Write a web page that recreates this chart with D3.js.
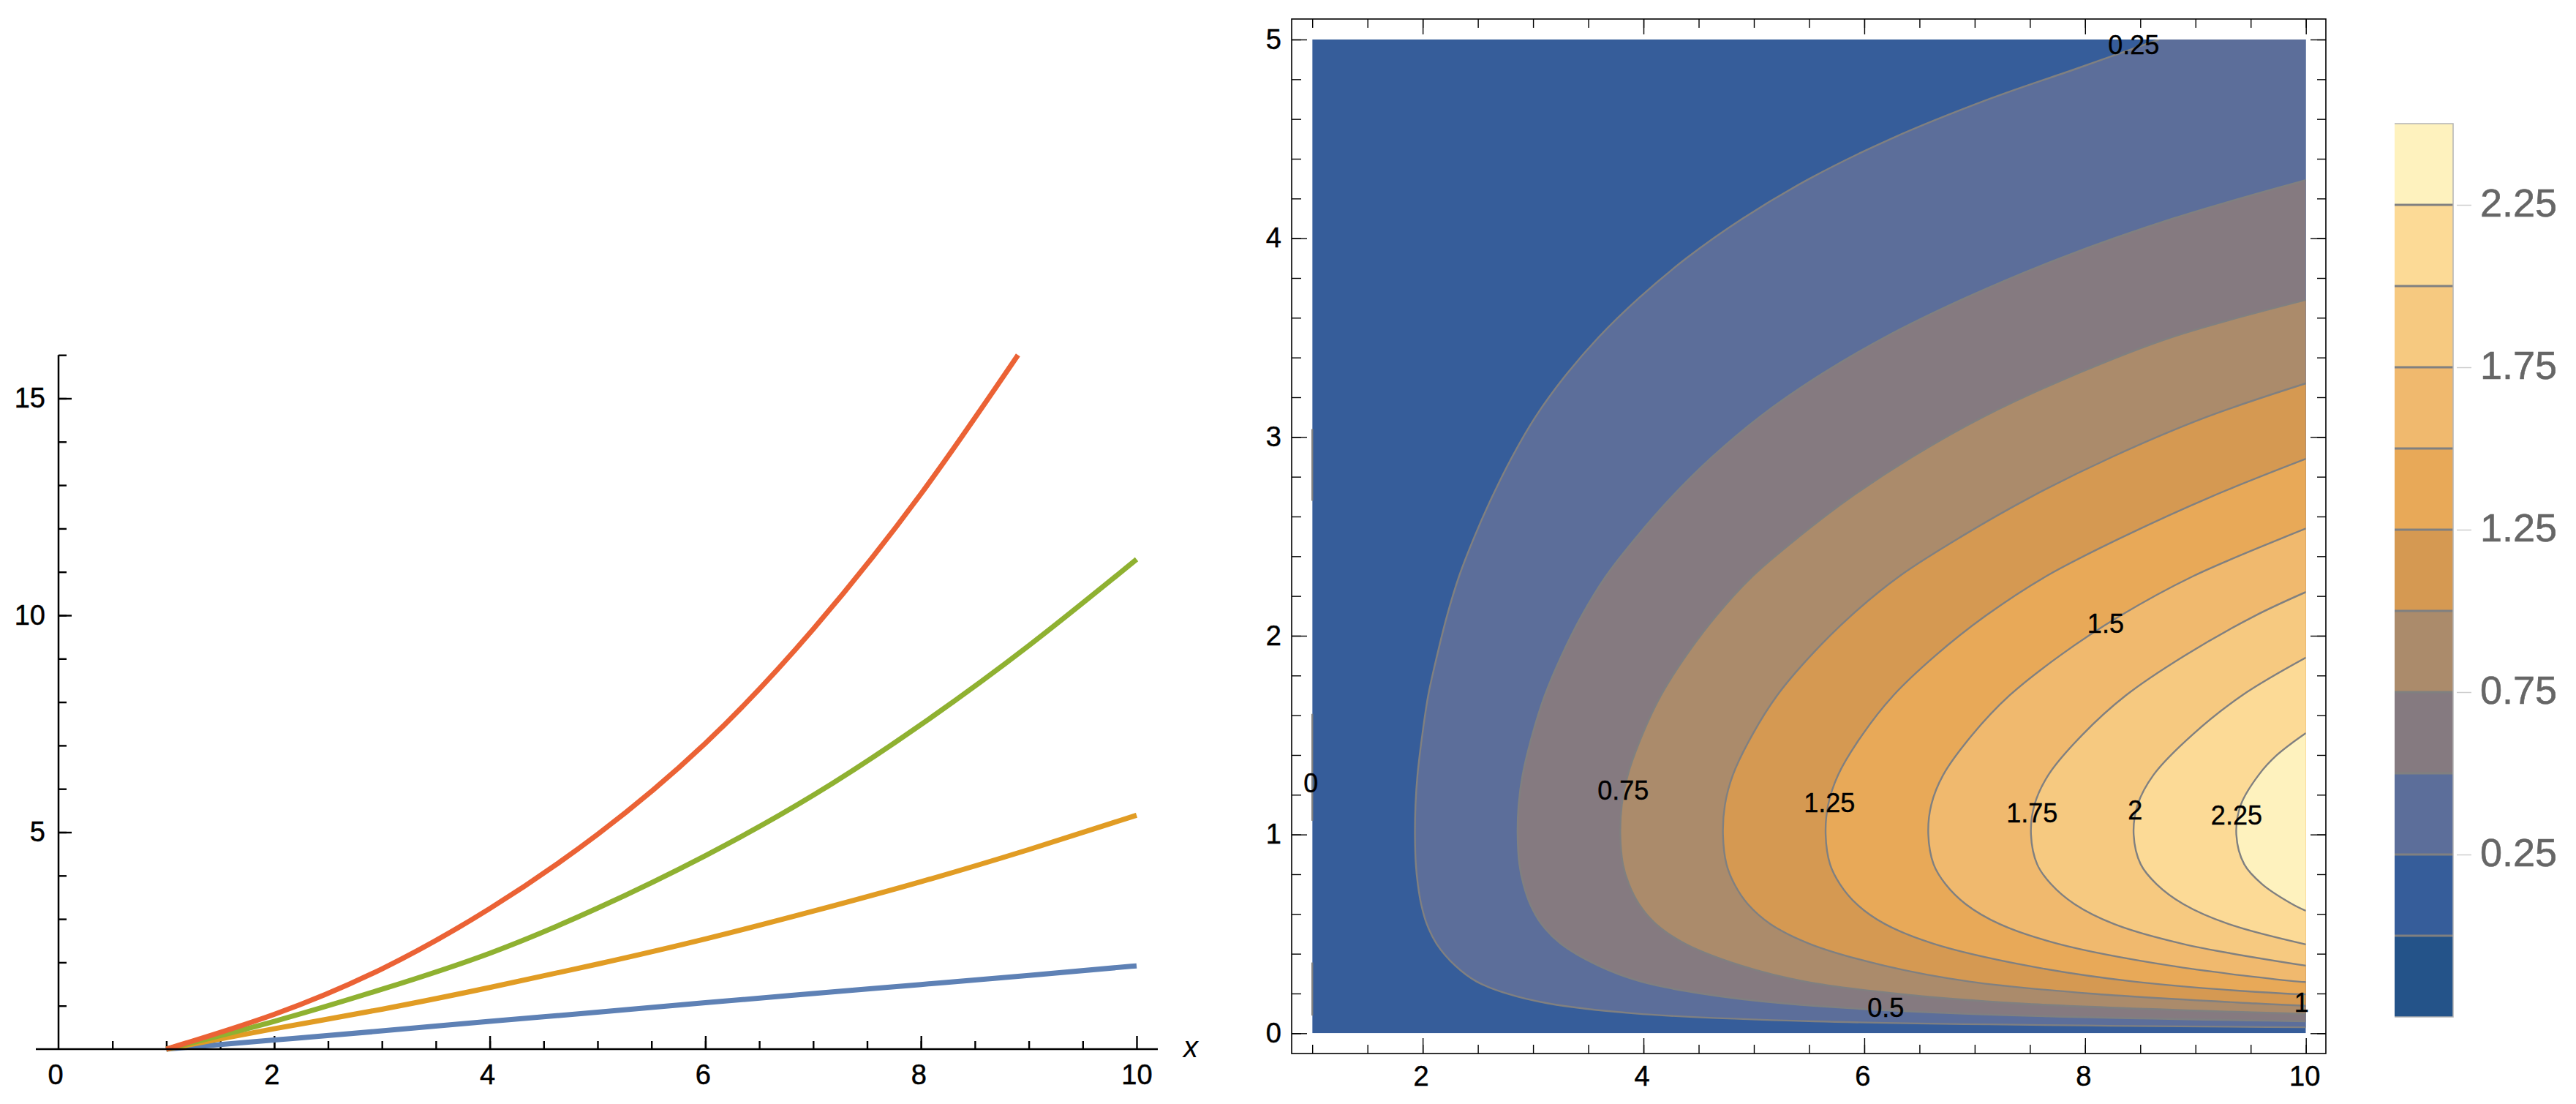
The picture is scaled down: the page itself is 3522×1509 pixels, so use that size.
<!DOCTYPE html>
<html>
<head>
<meta charset="utf-8">
<script src="https://cdn.jsdelivr.net/npm/d3@7"></script>
<style>
  html, body { margin: 0; background: #fff; }
  svg { display: block; }
  text { font-family: "Liberation Sans", Arial, sans-serif; }
</style>
</head>
<body>
<svg id="chart" width="3522" height="1509"></svg>
<script>
// left plot: curves
const curveX = [1, 2, 3, 4, 5, 6, 7, 8, 9, 10];
const blueY = [0, 0.21, 0.42, 0.64, 0.85, 1.07, 1.28, 1.49, 1.7, 1.92];
const orangeY = [0, 0.47, 0.92, 1.42, 1.96, 2.54, 3.18, 3.86, 4.6, 5.39];
const greenY = [0, 0.64, 1.38, 2.21, 3.25, 4.46, 5.85, 7.48, 9.3, 11.29];
const redX = [1, 2, 3, 4, 5, 6, 7, 8, 8.9];
const redY = [0, 0.8, 1.85, 3.24, 4.95, 7.05, 9.68, 12.8, 16];

// right plot: contour lines, top or right edge first
const c025 = [[8.67,5],[7.905,4.85],[7.13,4.7],[6.24,4.5],[5.505,4.3],[4.9,4.1],[4.39,3.9],[3.96,3.7],[3.59,3.5],[3.28,3.3],[3.02,3.1],[2.81,2.9],[2.63,2.7],[2.47,2.5],[2.33,2.3],[2.22,2.1],[2.13,1.9],[2.05,1.7],[1.996,1.5],[1.953,1.3],[1.935,1.15],[1.93,1],[1.938,0.85],[1.956,0.75],[1.986,0.65],[2.037,0.55],[2.126,0.45],[2.295,0.34],[2.488,0.26],[2.76,0.2],[3.137,0.15],[3.908,0.1],[5.545,0.06],[10,0.03]];
const c050 = [[10,4.293],[8.8,4.1],[7.775,3.9],[6.917,3.7],[6.18,3.5],[5.566,3.3],[5.05,3.1],[4.623,2.9],[4.258,2.7],[3.941,2.5],[3.66,2.3],[3.439,2.1],[3.258,1.9],[3.106,1.7],[2.992,1.5],[2.905,1.3],[2.869,1.15],[2.86,1],[2.876,0.85],[2.912,0.75],[2.973,0.65],[3.075,0.55],[3.252,0.45],[3.591,0.34],[3.976,0.26],[4.521,0.2],[5.274,0.15],[6.815,0.1],[10,0.06]];
const c075 = [[10,3.69],[8.772,3.5],[7.849,3.3],[7.073,3.1],[6.435,2.9],[5.886,2.7],[5.412,2.5],[4.989,2.3],[4.659,2.1],[4.386,1.9],[4.158,1.7],[3.988,1.5],[3.858,1.3],[3.804,1.15],[3.79,1],[3.814,0.85],[3.868,0.75],[3.959,0.65],[4.112,0.55],[4.379,0.45],[4.886,0.34],[5.464,0.26],[6.282,0.2],[7.41,0.15],[10,0.097]];
const c100 = [[10,3.27],[9.097,3.1],[8.246,2.9],[7.515,2.7],[6.882,2.5],[6.319,2.3],[5.878,2.1],[5.515,1.9],[5.211,1.7],[4.984,1.5],[4.81,1.3],[4.738,1.15],[4.72,1],[4.752,0.85],[4.824,0.75],[4.945,0.65],[5.149,0.55],[5.505,0.45],[6.181,0.34],[6.952,0.26],[8.042,0.2],[9.547,0.15],[10,0.138]];
const c125 = [[10,2.89],[9.144,2.7],[8.353,2.5],[7.649,2.3],[7.098,2.1],[6.644,1.9],[6.264,1.7],[5.98,1.5],[5.763,1.3],[5.673,1.15],[5.65,1],[5.69,0.85],[5.78,0.75],[5.931,0.65],[6.186,0.55],[6.631,0.45],[7.476,0.34],[8.44,0.26],[9.803,0.2],[10,0.196]];
const c150 = [[10,2.54],[9.823,2.5],[8.979,2.3],[8.317,2.1],[7.772,1.9],[7.316,1.7],[6.976,1.5],[6.715,1.3],[6.607,1.15],[6.58,1],[6.628,0.85],[6.736,0.75],[6.918,0.65],[7.224,0.55],[7.757,0.45],[8.772,0.34],[9.928,0.26],[10,0.258]];
const c175 = [[10,2.22],[9.537,2.1],[8.901,1.9],[8.369,1.7],[7.972,1.5],[7.668,1.3],[7.542,1.15],[7.51,1],[7.566,0.85],[7.692,0.75],[7.904,0.65],[8.261,0.55],[8.884,0.45],[10,0.34]];
const c200 = [[10,1.89],[9.422,1.7],[8.968,1.5],[8.62,1.3],[8.476,1.15],[8.44,1],[8.504,0.85],[8.648,0.75],[8.89,0.65],[9.298,0.55],[10,0.447]];
const c225 = [[10,1.51],[9.738,1.4],[9.573,1.3],[9.411,1.15],[9.37,1],[9.442,0.85],[9.604,0.75],[9.876,0.65],[10,0.616]];
const contours = [c025, c050, c075, c100, c125, c150, c175, c200, c225];

// level 0 only shows as short pieces on the left edge
const zeroPieces = [[2.679, 3.04], [1.069, 1.607], [0.089, 0.356]];

const contourLabels = ["0", "0.25", "0.5", "0.75", "1", "1.25", "1.5", "1.75", "2", "2.25"];
const contourLabelX = [0.987, 8.44, 6.194, 3.816, 9.96, 5.684, 8.186, 7.52, 8.454, 9.372];
const contourLabelY = [1.26, 4.974, 0.13, 1.223, 0.156, 1.159, 2.062, 1.109, 1.124, 1.098];

const levels = [0, 0.25, 0.5, 0.75, 1, 1.25, 1.5, 1.75, 2, 2.25];
const bandColors = ["#245389", "#365D9A", "#5C6E9A", "#857A80", "#AB8B6B", "#D59952", "#E8A958", "#F0B96E", "#F6C980", "#FCDA96", "#FEF2BE"];
const legendTicks = [0.25, 0.75, 1.25, 1.75, 2.25];

const svg = d3.select("#chart");

function estiloEje(g, ancho) {
  g.selectAll(".tick line").attr("stroke", "#000").attr("stroke-width", ancho);
  g.selectAll("text").attr("fill", "#000").attr("font-size", 38)
    .attr("stroke", "#000").attr("stroke-width", 0.5);
  g.select(".domain").remove();
}

function dibujarCurvas() {
  const x = d3.scaleLinear().domain([0, 10]).range([80, 1554]);
  const y = d3.scaleLinear().domain([0, 16]).range([1434, 485.2]);
  const g = svg.append("g");

  const ejeXMenor = g.append("g").attr("transform", "translate(0,1434)")
    .call(d3.axisBottom(x).tickValues(d3.range(0.5, 10, 0.5)).tickSize(-11).tickFormat(""));
  estiloEje(ejeXMenor, 2.4);
  const ejeX = g.append("g").attr("transform", "translate(0,1434)")
    .call(d3.axisBottom(x).tickValues([2, 4, 6, 8, 10]).tickSize(-18).tickPadding(21).tickFormat(d3.format("d")));
  estiloEje(ejeX, 2.4);
  ejeX.selectAll("text").attr("dx", d => d === 10 ? 0 : -3.5);
  g.append("text").attr("x", 76).attr("y", 1434).attr("dy", 48).attr("text-anchor", "middle")
    .attr("font-size", 38).attr("stroke", "#000").attr("stroke-width", 0.5).text("0");

  const ejeYMenor = g.append("g").attr("transform", "translate(80,0)")
    .call(d3.axisLeft(y).tickValues(d3.range(1, 17)).tickSize(-11).tickFormat(""));
  estiloEje(ejeYMenor, 2.4);
  const ejeY = g.append("g").attr("transform", "translate(80,0)")
    .call(d3.axisLeft(y).tickValues([5, 10, 15]).tickSize(-18).tickPadding(18).tickFormat(d3.format("d")));
  estiloEje(ejeY, 2.4);

  const curvas = [
    { xs: curveX, ys: blueY, color: "#5E81B5" },
    { xs: curveX, ys: orangeY, color: "#E19C24" },
    { xs: curveX, ys: greenY, color: "#8FB131" },
    { xs: redX, ys: redY, color: "#EB6235" }
  ];
  const linea = d3.line().x(d => x(d[0])).y(d => y(d[1])).curve(d3.curveNatural);
  curvas.forEach(c => {
    g.append("path")
      .attr("d", linea(c.xs.map((v, i) => [v, c.ys[i]])))
      .attr("fill", "none").attr("stroke", c.color).attr("stroke-width", 7);
  });

  g.append("line").attr("x1", 49).attr("x2", 1583).attr("y1", 1434).attr("y2", 1434)
    .attr("stroke", "#000").attr("stroke-width", 2.5);
  g.append("line").attr("x1", 80).attr("x2", 80).attr("y1", y(16)).attr("y2", 1434)
    .attr("stroke", "#000").attr("stroke-width", 2.5);
  g.append("text").attr("x", 1628).attr("y", 1445).attr("text-anchor", "middle")
    .attr("font-size", 40).attr("font-style", "italic").text("x");
}

function dibujarContornos() {
  const x = d3.scaleLinear().domain([1, 10]).range([1794.2, 3152.7]);
  const y = d3.scaleLinear().domain([0, 5]).range([1412.3, 54]);
  const g = svg.append("g");

  svg.append("clipPath").attr("id", "marco").append("rect")
    .attr("x", x(1)).attr("y", y(5)).attr("width", x(10) - x(1)).attr("height", y(0) - y(5));
  const plot = g.append("g").attr("clip-path", "url(#marco)");

  plot.append("rect").attr("x", x(1)).attr("y", y(5))
    .attr("width", x(10) - x(1)).attr("height", y(0) - y(5)).attr("fill", bandColors[1]);

  const linea = d3.line().x(d => x(d[0])).y(d => y(d[1])).curve(d3.curveCatmullRom.alpha(0.5));
  contours.forEach((pts, i) => {
    const inicio = pts[0];
    const fin = pts[pts.length - 1];
    // close along the right edge, through the corner if the line starts on the top edge
    let cierre = `L${x(10)},${y(fin[1])}`;
    if (inicio[0] < 10) cierre += `L${x(10)},${y(5)}`;
    cierre += `L${x(inicio[0])},${y(inicio[1])}Z`;
    plot.append("path").attr("d", linea(pts) + cierre).attr("fill", bandColors[i + 2]);
  });
  contours.forEach(pts => {
    plot.append("path").attr("d", linea(pts)).attr("fill", "none")
      .attr("stroke", "#808080").attr("stroke-width", 2.4);
  });
  zeroPieces.forEach(p => {
    g.append("line").attr("x1", x(1)).attr("x2", x(1)).attr("y1", y(p[0])).attr("y2", y(p[1]))
      .attr("stroke", "#808080").attr("stroke-width", 2.4);
  });

  contourLabels.forEach((t, i) => {
    g.append("text").attr("x", x(contourLabelX[i])).attr("y", y(contourLabelY[i]))
      .attr("dy", "0.35em").attr("text-anchor", "middle")
      .attr("font-size", 36).attr("fill", "#000").attr("stroke", "#000").attr("stroke-width", 0.4).text(t);
  });

  // frame with ticks on all four sides
  const izq = 1766, der = 3180, arriba = 26, abajo = 1440;
  const xMenor = d3.range(1, 10.01, 0.5);
  const xMayor = [2, 4, 6, 8, 10];
  const yMenor = d3.range(0, 5.01, 0.2);
  const yMayor = [0, 1, 2, 3, 4, 5];

  const poner = (gen, tx, ty) => {
    const e = g.append("g").attr("transform", `translate(${tx},${ty})`).call(gen);
    estiloEje(e, 1.4);
    return e;
  };
  poner(d3.axisBottom(x).tickValues(xMenor).tickSize(-12).tickFormat(""), 0, abajo);
  poner(d3.axisTop(x).tickValues(xMenor).tickSize(-12).tickFormat(""), 0, arriba);
  poner(d3.axisLeft(y).tickValues(yMenor).tickSize(-13).tickFormat(""), izq, 0);
  poner(d3.axisRight(y).tickValues(yMenor).tickSize(-12).tickFormat(""), der, 0);

  const ejeAbajo = poner(d3.axisBottom(x).tickValues(xMayor).tickSize(-21).tickPadding(17).tickFormat(d3.format("d")), 0, abajo);
  ejeAbajo.selectAll("text").attr("dx", d => d === 10 ? -2 : -2.5);
  poner(d3.axisTop(x).tickValues(xMayor).tickSize(-21).tickFormat(""), 0, arriba);
  poner(d3.axisLeft(y).tickValues(yMayor).tickSize(-21).tickPadding(14).tickFormat(d3.format("d")), izq, 0);
  poner(d3.axisRight(y).tickValues(yMayor).tickSize(-21).tickFormat(""), der, 0);

  g.append("rect").attr("x", izq).attr("y", arriba).attr("width", der - izq).attr("height", abajo - arriba)
    .attr("fill", "none").attr("stroke", "#000").attr("stroke-width", 1.6);
}

function dibujarLeyenda() {
  const y = d3.scaleLinear().domain([-0.25, 2.5]).range([1390, 169]);
  const g = svg.append("g");
  const x0 = 3274, x1 = 3354;
  const bordes = [-0.25].concat(levels, [2.5]);

  bandColors.forEach((c, i) => {
    g.append("rect").attr("x", x0).attr("width", x1 - x0)
      .attr("y", y(bordes[i + 1])).attr("height", y(bordes[i]) - y(bordes[i + 1]))
      .attr("fill", c);
  });
  g.selectAll("line.nivel").data(levels).enter().append("line")
    .attr("class", "nivel").attr("x1", x0).attr("x2", x1)
    .attr("y1", d => y(d)).attr("y2", d => y(d))
    .attr("stroke", "#808080").attr("stroke-width", 3);

  g.append("path").attr("d", `M${x0},${y(2.5)}H${x1}V${y(-0.25)}H${x0}`)
    .attr("fill", "none").attr("stroke", "#b4b4b4").attr("stroke-width", 1.5);

  const eje = g.append("g").attr("transform", "translate(3359,0)")
    .call(d3.axisRight(y).tickValues(legendTicks).tickSize(20).tickPadding(12).tickFormat(d3.format(".2f")));
  eje.select(".domain").remove();
  eje.selectAll(".tick line").attr("stroke", "#cccccc").attr("stroke-width", 1.5);
  eje.selectAll("text").attr("fill", "#666666").attr("font-size", 54).attr("dy", "0.28em")
    .attr("stroke", "#666666").attr("stroke-width", 0.6);
}

dibujarCurvas();
dibujarContornos();
dibujarLeyenda();
</script>
</body>
</html>
